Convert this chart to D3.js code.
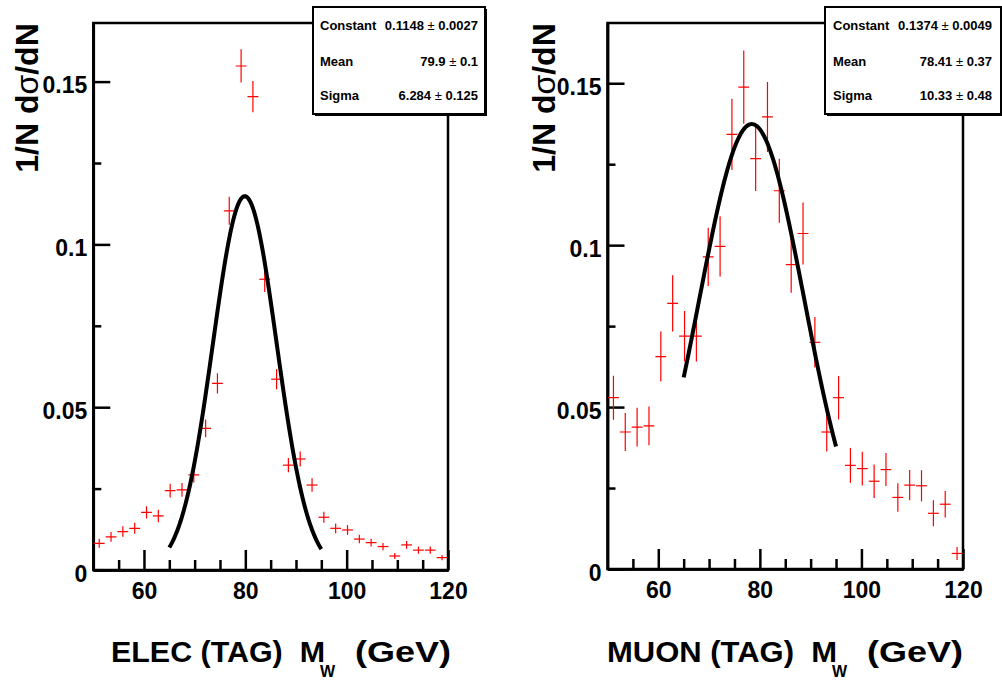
<!DOCTYPE html>
<html><head><meta charset="utf-8">
<script src="https://cdn.jsdelivr.net/npm/d3@7"></script>
<style>
body{margin:0;background:#fff}
svg{display:block}
text{font-family:"Liberation Sans",Arial,Helvetica,sans-serif;font-weight:bold;fill:#000;white-space:pre}
</style>
</head><body><svg id="c" width="1002" height="680"></svg>
<script>
// ---------- data ----------
const massBins = [51.17,53.5,55.83,58.17,60.5,62.83,65.17,67.5,69.83,72.17,74.5,76.83,79.17,81.5,83.83,
                  86.17,88.5,90.83,93.17,95.5,97.83,100.17,102.5,104.83,107.17,109.5,111.83,114.17,116.5,118.83];
const binWidth = 2.333;
const elecValues = [0.0082,0.0102,0.0118,0.0128,0.0177,0.0166,0.0244,0.0246,0.0292,0.0435,0.0573,0.1103,0.1548,0.1454,0.0893,
                    0.0586,0.0322,0.0341,0.0261,0.0162,0.0128,0.0123,0.0095,0.0084,0.0072,0.0043,0.0077,0.0061,0.0061,0.0038];
const elecErrors = [0.0014,0.0015,0.0016,0.0017,0.0019,0.0019,0.0021,0.0021,0.0023,0.0027,0.0031,0.0043,0.0051,0.0048,0.0039,
                    0.0031,0.0022,0.0023,0.0021,0.0017,0.0015,0.0015,0.0013,0.0012,0.0011,0.0009,0.0012,0.0011,0.0011,0.0008];
const muonValues = [0.0529,0.0423,0.0438,0.0442,0.0656,0.0820,0.0719,0.0719,0.0964,0.0996,0.1342,0.1488,0.1267,0.1396,0.1168,
                    0.0940,0.1036,0.0700,0.0423,0.0529,0.0320,0.0310,0.0271,0.0307,0.0221,0.0259,0.0257,0.0172,0.0200,0.0048];
const muonErrors = [0.0068,0.0059,0.0060,0.0060,0.0077,0.0087,0.0078,0.0078,0.0090,0.0093,0.0110,0.0113,0.0100,0.0108,0.0099,
                    0.0087,0.0096,0.0078,0.0060,0.0067,0.0054,0.0052,0.0052,0.0051,0.0044,0.0047,0.0048,0.0040,0.0041,0.0020];
const elecFit = [0.1148, 79.9, 6.284];     // constant, mean, sigma
const muonFit = [0.1374, 78.41, 10.33];
const fitRange = [65, 95];
const statLabels = ["Constant", "Mean", "Sigma"];
const elecStatValues = ["0.1148", "79.9", "6.284"];
const elecStatErrors = ["0.0027", "0.1", "0.125"];
const muonStatValues = ["0.1374", "78.41", "10.33"];
const muonStatErrors = ["0.0049", "0.37", "0.48"];
const xDomain = [50, 120];
const xTicks = [60, 80, 100, 120];
const xMinorTicks = [55,60,65,70,75,80,85,90,95,100,105,110,115];
const yTicks = [0, 0.05, 0.1, 0.15];
const yMinorTicks = [0.025, 0.075, 0.125];
const yTitle = ["1/N d", "σ", "/dN"];

// ---------- layout ----------
const svg = d3.select("#c");
const panels = [
  {name:"ELEC", vals:elecValues, errs:elecErrors, fit:elecFit, sv:elecStatValues, se:elecStatErrors, ymax:0.168,
   x0:93.3, x1:448, y0:23, y1:570, titleX:38, box:{x:313,y:7,w:172,h:107}, lblX:320, valX:478,
   xt:{a:111, aw:214, w:320, b:355, bw:96}},
  {name:"MUON", vals:muonValues, errs:muonErrors, fit:muonFit, sv:muonStatValues, se:muonStatErrors, ymax:0.1686,
   x0:607.5, x1:963, y0:23, y1:569, titleX:555, box:{x:825,y:7,w:176,h:107}, lblX:833, valX:992,
   xt:{a:607, aw:230, w:832, b:867, bw:96}}
];

panels.forEach(p => {
  const g = svg.append("g");
  const x = d3.scaleLinear().domain(xDomain).range([p.x0, p.x1]);
  const y = d3.scaleLinear().domain([0, p.ymax]).range([p.y1, p.y0]);

  // frame
  g.append("rect").attr("x", p.x0).attr("y", p.y0).attr("width", p.x1 - p.x0).attr("height", p.y1 - p.y0)
    .attr("fill", "none").attr("stroke", "#000").attr("stroke-width", 2.5);

  // y axis
  const yAx = g.append("g").attr("transform", `translate(${p.x0},0)`)
    .call(d3.axisLeft(y).tickValues(yTicks).tickSizeInner(-17).tickSizeOuter(0).tickPadding(6)
      .tickFormat(d => d === 0 ? "0" : String(d)));
  const yMin = g.append("g").attr("transform", `translate(${p.x0},0)`)
    .call(d3.axisLeft(y).tickValues(yMinorTicks).tickSizeInner(-8).tickSizeOuter(0).tickFormat(""));
  // x axis
  const xAx = g.append("g").attr("transform", `translate(0,${p.y1})`)
    .call(d3.axisBottom(x).tickValues(xTicks).tickSizeInner(-20).tickSizeOuter(0).tickPadding(13).tickFormat(d3.format("d")));
  const xMin = g.append("g").attr("transform", `translate(0,${p.y1})`)
    .call(d3.axisBottom(x).tickValues(xMinorTicks.filter(v => !xTicks.includes(v))).tickSizeInner(-10).tickSizeOuter(0).tickFormat(""));
  [yAx, yMin, xAx, xMin].forEach(a => {
    a.select(".domain").attr("stroke", "#000").attr("stroke-width", 2.5);
    a.selectAll(".tick line").attr("stroke", "#000").attr("stroke-width", 2.5);
    a.selectAll("text").attr("font-family", null).attr("font-size", null).style("font-size", "23px").style("font-weight", "bold");
  });
  yAx.selectAll(".tick text").attr("dy", "0.48em");
  xAx.selectAll(".tick text").attr("dy", "0.68em");

  // data crosses
  const cl = "clip" + p.name;
  svg.append("clipPath").attr("id", cl).append("rect")
    .attr("x", p.x0).attr("y", p.y0).attr("width", p.x1 - p.x0).attr("height", p.y1 - p.y0);
  const dg = g.append("g").attr("clip-path", `url(#${cl})`).attr("stroke", "#ff0000").attr("stroke-width", 1.2);
  const pts = massBins.map((m, i) => ({m, v: p.vals[i], e: p.errs[i]}));
  dg.selectAll("line.h").data(pts).join("line").attr("class", "h")
    .attr("x1", d => x(d.m - binWidth / 2) + 0.5).attr("x2", d => x(d.m + binWidth / 2) - 0.5)
    .attr("y1", d => y(d.v)).attr("y2", d => y(d.v));
  dg.selectAll("line.v").data(pts).join("line").attr("class", "v")
    .attr("x1", d => x(d.m)).attr("x2", d => x(d.m))
    .attr("y1", d => y(d.v - d.e)).attr("y2", d => y(d.v + d.e));

  // fit curve
  const [C, mu, sg] = p.fit;
  const fx = d3.range(fitRange[0], fitRange[1] + 0.001, 0.2);
  g.append("path").datum(fx)
    .attr("d", d3.line().x(d => x(d)).y(d => y(C * Math.exp(-0.5 * ((d - mu) / sg) ** 2))))
    .attr("fill", "none").attr("stroke", "#000").attr("stroke-width", 4);

  // y title
  const yt = g.append("text").attr("transform", `translate(${p.titleX},98) rotate(-90)`)
    .attr("text-anchor", "middle").style("font-size", "32px");
  yt.append("tspan").text(yTitle[0]);
  yt.append("tspan").text(yTitle[1]).style("font-weight", "normal");
  yt.append("tspan").text(yTitle[2]);

  // x title
  const t = p.xt;
  g.append("text").attr("x", t.a).attr("y", 662).style("font-size", "29px")
    .attr("textLength", t.aw).attr("lengthAdjust", "spacingAndGlyphs").text(p.name + " (TAG)  M");
  g.append("text").attr("x", t.w).attr("y", 677).style("font-size", "16px").text("W");
  g.append("text").attr("x", t.b).attr("y", 662).style("font-size", "29px")
    .attr("textLength", t.bw).attr("lengthAdjust", "spacingAndGlyphs").text("(GeV)");

  // stats box
  const b = p.box;
  g.append("rect").attr("x", b.x + 2).attr("y", b.y + 2).attr("width", b.w).attr("height", b.h).attr("fill", "#000");
  g.append("rect").attr("x", b.x).attr("y", b.y).attr("width", b.w).attr("height", b.h)
    .attr("fill", "#fff").attr("stroke", "#000").attr("stroke-width", 2);
  const rowsY = [30, 66, 100];
  statLabels.forEach((lab, i) => {
    g.append("text").attr("x", p.lblX).attr("y", rowsY[i]).style("font-size", "13px").text(lab);
    const vt = g.append("text").attr("x", p.valX).attr("y", rowsY[i]).attr("text-anchor", "end").style("font-size", "13px");
    vt.append("tspan").text(p.sv[i] + " ");
    vt.append("tspan").text("±").style("font-weight", "normal");
    vt.append("tspan").text(" " + p.se[i]);
  });
});
</script>
</body></html>
